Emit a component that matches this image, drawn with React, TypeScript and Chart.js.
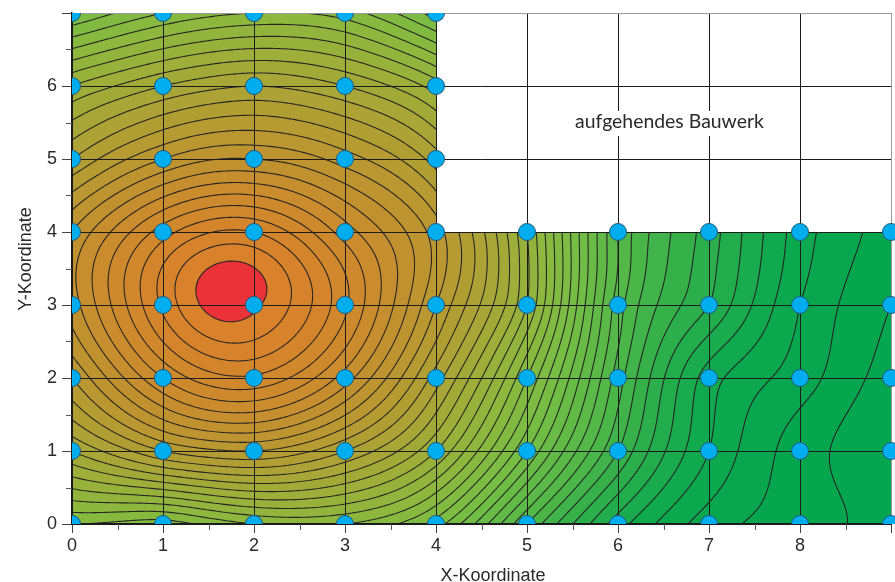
import { useEffect, useRef } from "react";
import { Chart, registerables } from "chart.js";
Chart.register(...registerables);

// ---- data ----
const xTickValues = [0, 1, 2, 3, 4, 5, 6, 7, 8, 9];
const yTickValues = [0, 1, 2, 3, 4, 5, 6, 7];
const hiddenXLabel = 9;
const hiddenYLabel = 7;
// measured values at the grid points (blue circles); index = x coordinate
const rowY0 = [17, 16.5, 18, 18, 15.5, 9, 3.5, 0.5, -0.5, -1.5];
const rowY1 = [23, 26, 27, 25, 21, 14, 7, 2, -0.5, -2];
const rowY2 = [27, 32, 33.8, 30.5, 24.5, 17, 8.5, 2.5, 0.5, -1.5];
const rowY3 = [29.5, 35.2, 37.2, 33.2, 27, 20, 9.5, 5, 1, -1];
const rowY4 = [29, 33.5, 35, 31.5, 27.5, 20, 10, 5.5, 1.5, -0.5];
const rowY5 = [25, 28, 29, 27.5, 24.5];
const rowY6 = [21, 23, 24, 23, 20.5];
const rowY7 = [15, 17, 18, 17.5, 14.5];
const measuredRows = [rowY0, rowY1, rowY2, rowY3, rowY4, rowY5, rowY6, rowY7];
// maximum (red area)
const peakXs = [1.78];
const peakYs = [3.18];
const peakValues = [37.9];
const contourLevels = [-3, -2, -1, 0, 1, 2, 3, 4, 5, 6, 7, 8, 9, 10, 11, 12, 13, 14, 15, 16, 17, 18, 19, 20, 21, 22, 23, 24, 25, 26, 27, 28, 29, 30, 31, 32, 33, 34, 35, 36, 37];
const redLevel = 37;
const buildingLabel = "aufgehendes Bauwerk";
const xTitle = "X-Koordinate";
const yTitle = "Y-Koordinate";

// ---- colour map (styles) ----
const cmapV = [-3, 2, 5, 9, 14, 18, 21, 25, 29, 33, 37];
const cmapR = [0, 12, 38, 80, 115, 138, 155, 175, 192, 208, 218];
const cmapG = [165, 168, 174, 183, 190, 184, 176, 160, 146, 136, 128];
const cmapB = [80, 78, 76, 72, 69, 62, 57, 52, 47, 44, 43];

function cmap(v: number): [number, number, number] {
  if (v <= cmapV[0]) return [cmapR[0], cmapG[0], cmapB[0]];
  for (let k = 1; k < cmapV.length; k++) {
    if (v <= cmapV[k]) {
      const t = (v - cmapV[k - 1]) / (cmapV[k] - cmapV[k - 1]);
      return [
        cmapR[k - 1] + (cmapR[k] - cmapR[k - 1]) * t,
        cmapG[k - 1] + (cmapG[k] - cmapG[k - 1]) * t,
        cmapB[k - 1] + (cmapB[k] - cmapB[k - 1]) * t,
      ];
    }
  }
  const n = cmapV.length - 1;
  return [cmapR[n], cmapG[n], cmapB[n]];
}

function buildTPS(px: number[], py: number[], pv: number[]) {
  const n = px.length;
  const m = n + 3;
  const A: number[][] = [];
  const phi = (r2: number) => (r2 <= 0 ? 0 : 0.5 * r2 * Math.log(r2));
  for (let i = 0; i < m; i++) A.push(new Array(m + 1).fill(0));
  for (let i = 0; i < n; i++) {
    for (let j = 0; j < n; j++) {
      const dx = px[i] - px[j], dy = py[i] - py[j];
      A[i][j] = phi(dx * dx + dy * dy);
    }
    A[i][n] = 1; A[i][n + 1] = px[i]; A[i][n + 2] = py[i];
    A[n][i] = 1; A[n + 1][i] = px[i]; A[n + 2][i] = py[i];
    A[i][m] = pv[i];
  }
  for (let c = 0; c < m; c++) {
    let p = c;
    for (let r = c + 1; r < m; r++) if (Math.abs(A[r][c]) > Math.abs(A[p][c])) p = r;
    const tmp = A[c]; A[c] = A[p]; A[p] = tmp;
    const d = A[c][c];
    if (Math.abs(d) < 1e-12) continue;
    for (let r = 0; r < m; r++) {
      if (r === c) continue;
      const f = A[r][c] / d;
      if (f === 0) continue;
      for (let k = c; k <= m; k++) A[r][k] -= f * A[c][k];
    }
  }
  const w = A.map((row, i) => row[m] / row[i]);
  return (x: number, y: number) => {
    let s = w[n] + w[n + 1] * x + w[n + 2] * y;
    for (let i = 0; i < n; i++) {
      const dx = x - px[i], dy = y - py[i];
      s += w[i] * phi(dx * dx + dy * dy);
    }
    return s;
  };
}

const STEP = 0.025;

export default function App() {
  const ref = useRef<HTMLCanvasElement>(null);
  useEffect(() => {
    const canvas = ref.current!;
    const px: number[] = [], py: number[] = [], pv: number[] = [];
    const points: { x: number; y: number }[] = [];
    measuredRows.forEach((row, yi) => {
      row.forEach((v, xi) => {
        px.push(xTickValues[xi]); py.push(yTickValues[yi]); pv.push(v);
        points.push({ x: xTickValues[xi], y: yTickValues[yi] });
      });
    });
    peakXs.forEach((x, k) => { px.push(x); py.push(peakYs[k]); pv.push(peakValues[k]); });
    const f = buildTPS(px, py, pv);
    const xMax = xTickValues[xTickValues.length - 1];
    const yMax = yTickValues[yTickValues.length - 1];
    const nx = Math.round(xMax / STEP) + 1;
    const ny = Math.round(yMax / STEP) + 1;
    const grid = new Float64Array(nx * ny);
    for (let j = 0; j < ny; j++) for (let i = 0; i < nx; i++) grid[j * nx + i] = f(i * STEP, j * STEP);
    const sample = (x: number, y: number) => {
      let gi = x / STEP, gj = y / STEP;
      gi = Math.max(0, Math.min(nx - 1.0001, gi));
      gj = Math.max(0, Math.min(ny - 1.0001, gj));
      const i = Math.floor(gi), j = Math.floor(gj);
      const tx = gi - i, ty = gj - j;
      const a = grid[j * nx + i], b = grid[j * nx + i + 1];
      const c = grid[(j + 1) * nx + i], d = grid[(j + 1) * nx + i + 1];
      return (a * (1 - tx) + b * tx) * (1 - ty) + (c * (1 - tx) + d * tx) * ty;
    };

    const lPath = (ctx: CanvasRenderingContext2D, xs: any, ys: any) => {
      ctx.beginPath();
      ctx.moveTo(xs.getPixelForValue(0), ys.getPixelForValue(0));
      ctx.lineTo(xs.getPixelForValue(9), ys.getPixelForValue(0));
      ctx.lineTo(xs.getPixelForValue(9), ys.getPixelForValue(4));
      ctx.lineTo(xs.getPixelForValue(4), ys.getPixelForValue(4));
      ctx.lineTo(xs.getPixelForValue(4), ys.getPixelForValue(7));
      ctx.lineTo(xs.getPixelForValue(0), ys.getPixelForValue(7));
      ctx.closePath();
    };

    const fieldPlugin = {
      id: "field",
      beforeDraw(chart: any) {
        const { ctx, chartArea } = chart;
        const xs = chart.scales.x, ys = chart.scales.y;
        const left = Math.floor(chartArea.left), top = Math.floor(chartArea.top);
        const W = Math.ceil(chartArea.right) - left, H = Math.ceil(chartArea.bottom) - top;
        const off = document.createElement("canvas");
        off.width = W; off.height = H;
        const octx = off.getContext("2d")!;
        const img = octx.createImageData(W, H);
        const colX = new Float64Array(W);
        for (let i = 0; i < W; i++) colX[i] = xs.getValueForPixel(left + i + 0.5);
        for (let j = 0; j < H; j++) {
          const yv = ys.getValueForPixel(top + j + 0.5);
          for (let i = 0; i < W; i++) {
            const v = sample(colX[i], yv);
            let r: number, g: number, b: number;
            if (v >= redLevel) { r = 234; g = 50; b = 56; }
            else {
              const band = Math.floor(v);
              [r, g, b] = cmap(band + 0.5);
            }
            const o = (j * W + i) * 4;
            img.data[o] = r; img.data[o + 1] = g; img.data[o + 2] = b; img.data[o + 3] = 255;
          }
        }
        octx.putImageData(img, 0, 0);
        ctx.save();
        lPath(ctx, xs, ys);
        ctx.clip();
        ctx.drawImage(off, left, top);
        // contour lines
        const PX = new Float64Array(nx), PY = new Float64Array(ny);
        for (let i = 0; i < nx; i++) PX[i] = xs.getPixelForValue(i * STEP);
        for (let j = 0; j < ny; j++) PY[j] = ys.getPixelForValue(j * STEP);
        ctx.strokeStyle = "#262626";
        ctx.lineWidth = 1.1;
        ctx.lineJoin = "round";
        for (const L of contourLevels) {
          ctx.beginPath();
          for (let j = 0; j < ny - 1; j++) {
            for (let i = 0; i < nx - 1; i++) {
              const a = grid[j * nx + i], b = grid[j * nx + i + 1];
              const c = grid[(j + 1) * nx + i + 1], d = grid[(j + 1) * nx + i];
              let idx = 0;
              if (a >= L) idx |= 1; if (b >= L) idx |= 2; if (c >= L) idx |= 4; if (d >= L) idx |= 8;
              if (idx === 0 || idx === 15) continue;
              const ep = (e: number): [number, number] => {
                if (e === 0) { const t = (L - a) / (b - a); return [PX[i] + (PX[i + 1] - PX[i]) * t, PY[j]]; }
                if (e === 1) { const t = (L - b) / (c - b); return [PX[i + 1], PY[j] + (PY[j + 1] - PY[j]) * t]; }
                if (e === 2) { const t = (L - d) / (c - d); return [PX[i] + (PX[i + 1] - PX[i]) * t, PY[j + 1]]; }
                const t = (L - a) / (d - a); return [PX[i], PY[j] + (PY[j + 1] - PY[j]) * t];
              };
              const seg = (e1: number, e2: number) => {
                const p1 = ep(e1), p2 = ep(e2);
                ctx.moveTo(p1[0], p1[1]); ctx.lineTo(p2[0], p2[1]);
              };
              const center = (a + b + c + d) / 4;
              switch (idx) {
                case 1: case 14: seg(3, 0); break;
                case 2: case 13: seg(0, 1); break;
                case 3: case 12: seg(3, 1); break;
                case 4: case 11: seg(1, 2); break;
                case 6: case 9: seg(0, 2); break;
                case 7: case 8: seg(3, 2); break;
                case 5:
                  if (center >= L) { seg(0, 1); seg(2, 3); } else { seg(3, 0); seg(1, 2); }
                  break;
                case 10:
                  if (center >= L) { seg(3, 0); seg(1, 2); } else { seg(0, 1); seg(2, 3); }
                  break;
              }
            }
          }
          ctx.stroke();
        }
        ctx.restore();
      },
      afterDraw(chart: any) {
        const { ctx, chartArea } = chart;
        const xs = chart.scales.x, ys = chart.scales.y;
        ctx.save();
        // minor ticks
        ctx.strokeStyle = "#555";
        ctx.lineWidth = 1;
        ctx.beginPath();
        for (let k = 0; k < xTickValues.length - 1; k++) {
          const x = Math.round(xs.getPixelForValue(xTickValues[k] + 0.5)) + 0.5;
          ctx.moveTo(x, chartArea.bottom); ctx.lineTo(x, chartArea.bottom + 6);
        }
        for (let k = 0; k < yTickValues.length - 1; k++) {
          const y = Math.round(ys.getPixelForValue(yTickValues[k] + 0.5)) + 0.5;
          ctx.moveTo(chartArea.left - 6, y); ctx.lineTo(chartArea.left, y);
        }
        ctx.stroke();
        // building label
        ctx.fillStyle = "#ffffff";
        ctx.fillRect(568, 111, 202, 25);
        ctx.fillStyle = "#2a2a2a";
        ctx.font = "19px Lato";
        const wMeas = ctx.measureText(buildingLabel).width;
        const size = 19 * 189 / wMeas;
        ctx.font = `${size.toFixed(2)}px Lato`;
        ctx.textBaseline = "alphabetic";
        ctx.textAlign = "left";
        ctx.fillText(buildingLabel, 575, 128);
        // axis titles
        ctx.fillStyle = "#2a2a2a";
        ctx.font = "18px 'Liberation Sans'";
        ctx.textAlign = "center";
        ctx.fillText(xTitle, 493, 581);
        ctx.translate(31, 259);
        ctx.rotate(-Math.PI / 2);
        ctx.fillText(yTitle, 0, 0);
        ctx.restore();
      },
    };

    const gridColor = (hidden: number) => (c: any) =>
      c.tick && c.tick.value === hidden ? "#9a9a9a" : "#1c1c1c";

    const chart = new Chart(canvas, {
      type: "scatter",
      data: {
        datasets: [
          {
            data: points,
            pointRadius: 8.5,
            pointBackgroundColor: "#00AEEF",
            pointBorderColor: "#235a78",
            pointBorderWidth: 1,
            showLine: false,
            clip: { left: 0, top: 0, right: false, bottom: 0 } as any,
          },
        ],
      },
      options: {
        responsive: false,
        animation: false,
        devicePixelRatio: 1,
        layout: { autoPadding: false, padding: { left: 0, top: 13, right: 4, bottom: 0 } },
        plugins: { legend: { display: false }, tooltip: { enabled: false } },
        scales: {
          x: {
            type: "linear",
            min: 0,
            max: 9,
            afterFit: (s: any) => { s.height = 58; s.paddingLeft = 0; s.paddingRight = 0; },
            afterBuildTicks: (s: any) => { s.ticks = xTickValues.map((v) => ({ value: v })); },
            ticks: {
              stepSize: 1,
              padding: 2,
              color: "#2b2b2b",
              font: { family: "'Liberation Sans'", size: 18 },
              callback: (v: any) => (v === hiddenXLabel ? "" : String(v)),
              maxRotation: 0,
            },
            grid: { color: gridColor(hiddenXLabel), lineWidth: 1, tickLength: 9, tickColor: "#444" },
            border: { display: true, color: "#1c1c1c", width: 2 },
          },
          y: {
            type: "linear",
            min: 0,
            max: 7,
            afterFit: (s: any) => { s.width = 72; s.paddingTop = 0; s.paddingBottom = 0; },
            afterBuildTicks: (s: any) => { s.ticks = yTickValues.map((v) => ({ value: v })); },
            ticks: {
              stepSize: 1,
              padding: 5,
              color: "#2b2b2b",
              font: { family: "'Liberation Sans'", size: 18 },
              callback: (v: any) => (v === hiddenYLabel ? "" : String(v)),
            },
            grid: { color: gridColor(hiddenYLabel), lineWidth: 1, tickLength: 10, tickColor: "#444" },
            border: { display: true, color: "#1c1c1c", width: 1.5 },
          },
        },
      },
      plugins: [fieldPlugin],
    });
    return () => chart.destroy();
  }, []);
  return (
    <div style={{ position: "fixed", left: 0, top: 0, width: 895, height: 582, background: "#ffffff" }}>
      <canvas ref={ref} width={895} height={582} style={{ display: "block", width: 895, height: 582 }} />
    </div>
  );
}
